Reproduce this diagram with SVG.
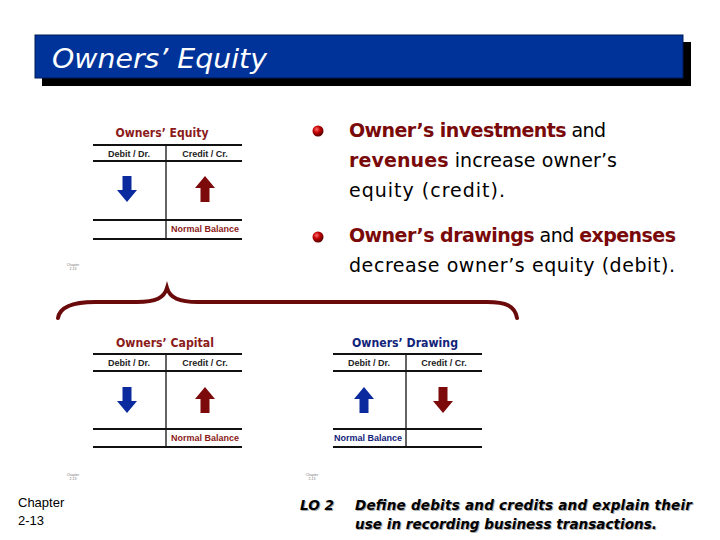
<svg xmlns="http://www.w3.org/2000/svg" width="720" height="540" viewBox="0 0 720 540">
<style>
.ttl{font-family:"DejaVu Sans",sans-serif;font-style:oblique;font-size:27px;fill:#ffffff}
.body{font-family:"DejaVu Sans",sans-serif;font-size:19px;fill:#000000}
.em{font-weight:bold;fill:#7a0a0a}
.tt{font-family:"DejaVu Sans",sans-serif;font-weight:bold;font-size:11.5px;text-anchor:middle}
.hd{font-family:"Liberation Sans",Arial,sans-serif;font-weight:bold;font-size:9px;fill:#222222;text-anchor:middle}
.nb{font-family:"Liberation Sans",Arial,sans-serif;font-weight:bold;font-size:9px;text-anchor:middle}
.ln{stroke:#111111;stroke-width:2;fill:none}
.vl{stroke:#111111;stroke-width:1.3;fill:none}
.tiny{font-family:"Liberation Sans",Arial,sans-serif;font-size:3.5px;fill:#777777;text-anchor:middle}
.lo{font-family:"DejaVu Sans",sans-serif;font-weight:bold;font-style:oblique;font-size:13.5px;fill:#000000}
.los{font-family:"DejaVu Sans",sans-serif;font-weight:bold;font-style:oblique;font-size:13.5px;fill:#aaaaaa}
.blue{fill:#0b2a9e}
.red{fill:#7d0a0a}
</style>
<defs>
<path id="up" d="M0,0 L10,12 L4.5,12 L4.5,26 L-4.5,26 L-4.5,12 L-10,12 Z"/>
<path id="down" d="M0,26 L10,14 L4.5,14 L4.5,0 L-4.5,0 L-4.5,14 L-10,14 Z"/>
<radialGradient id="ball" cx="0.38" cy="0.35" r="0.7">
<stop offset="0" stop-color="#ff6a6a"/>
<stop offset="0.45" stop-color="#c00000"/>
<stop offset="1" stop-color="#4a0000"/>
</radialGradient>
</defs>
<rect width="720" height="540" fill="#ffffff"/>

<g id="title">
<rect x="42" y="42" width="649" height="44" fill="#000000"/>
<rect x="35" y="35" width="648" height="43" fill="#003399" stroke="#001a55" stroke-width="1"/>
<text class="ttl" x="52" y="68" textLength="215" lengthAdjust="spacingAndGlyphs">Owners’ Equity</text>
</g>

<g id="equity-account">
<text class="tt" x="162" y="137" fill="#8b1a1a" textLength="93" lengthAdjust="spacingAndGlyphs">Owners’ Equity</text>
<line class="ln" x1="93" y1="145" x2="242" y2="145"/>
<line class="ln" x1="93" y1="161" x2="242" y2="161"/>
<line class="ln" x1="93" y1="220" x2="242" y2="220"/>
<line class="ln" x1="93" y1="239" x2="242" y2="239"/>
<line class="vl" x1="166" y1="145" x2="166" y2="240"/>
<text class="hd" x="129" y="157">Debit / Dr.</text>
<text class="hd" x="205" y="157">Credit / Cr.</text>
<use href="#down" class="blue" x="127" y="176"/>
<use href="#up" class="red" x="205" y="176"/>
<text class="nb" x="205" y="232" fill="#8b1a1a">Normal Balance</text>
</g>

<g id="capital-account">
<text class="tt" x="165" y="347" fill="#8b1a1a" textLength="98" lengthAdjust="spacingAndGlyphs">Owners’ Capital</text>
<line class="ln" x1="93" y1="354" x2="242" y2="354"/>
<line class="ln" x1="93" y1="371" x2="242" y2="371"/>
<line class="ln" x1="93" y1="429" x2="242" y2="429"/>
<line class="ln" x1="93" y1="447" x2="242" y2="447"/>
<line class="vl" x1="166" y1="354" x2="166" y2="448"/>
<text class="hd" x="129" y="366">Debit / Dr.</text>
<text class="hd" x="205" y="366">Credit / Cr.</text>
<use href="#down" class="blue" x="127" y="387"/>
<use href="#up" class="red" x="205" y="387"/>
<text class="nb" x="205" y="441" fill="#8b1a1a">Normal Balance</text>
</g>

<g id="drawing-account">
<text class="tt" x="405" y="347" fill="#12237a" textLength="106" lengthAdjust="spacingAndGlyphs">Owners’ Drawing</text>
<line class="ln" x1="333" y1="354" x2="482" y2="354"/>
<line class="ln" x1="333" y1="371" x2="482" y2="371"/>
<line class="ln" x1="333" y1="429" x2="482" y2="429"/>
<line class="ln" x1="333" y1="447" x2="482" y2="447"/>
<line class="vl" x1="406" y1="354" x2="406" y2="448"/>
<text class="hd" x="369" y="366">Debit / Dr.</text>
<text class="hd" x="444" y="366">Credit / Cr.</text>
<use href="#up" class="blue" x="364" y="387"/>
<use href="#down" class="red" x="443" y="387"/>
<text class="nb" x="368" y="441" fill="#12237a">Normal Balance</text>
</g>

<g id="bullets">
<circle cx="318" cy="131" r="5.5" fill="url(#ball)"/>
<circle cx="318" cy="237" r="5.5" fill="url(#ball)"/>
<text class="body" x="349" y="137" textLength="257" lengthAdjust="spacing"><tspan class="em">Owner’s investments</tspan> and</text>
<text class="body" x="349" y="167" textLength="268" lengthAdjust="spacing"><tspan class="em">revenues</tspan> increase owner’s</text>
<text class="body" x="349" y="197" textLength="156" lengthAdjust="spacing">equity (credit).</text>
<text class="body" x="349" y="242" textLength="327" lengthAdjust="spacing"><tspan class="em">Owner’s drawings</tspan> and <tspan class="em">expenses</tspan></text>
<text class="body" x="349" y="272" textLength="326" lengthAdjust="spacing">decrease owner’s equity (debit).</text>
</g>

<g id="connectors">
<path d="M58,318 C60,306 74,302 95,302 L137,302 C156,302 164,298 167,288 C170,298 179,302 198,302 L487,302 C506,302 515,306 517,318" fill="none" stroke="#6b0a0a" stroke-width="4" stroke-linecap="round"/>
</g>

<g id="tiny-labels">
<text class="tiny" x="73" y="266">Chapter</text>
<text class="tiny" x="73" y="270">2-13</text>
<text class="tiny" x="73" y="476">Chapter</text>
<text class="tiny" x="73" y="480">2-13</text>
<text class="tiny" x="312" y="476">Chapter</text>
<text class="tiny" x="312" y="480">2-13</text>
</g>

<g id="footer">
<text x="18" y="507" font-family="'Liberation Sans Narrow','Liberation Sans',Arial,sans-serif" font-size="13" fill="#000000">Chapter</text>
<text x="18" y="525" font-family="'Liberation Sans Narrow','Liberation Sans',Arial,sans-serif" font-size="13" fill="#000000">2-13</text>
<text class="los" x="301" y="511" textLength="34" lengthAdjust="spacingAndGlyphs">LO 2</text>
<text class="los" x="356" y="511" textLength="337" lengthAdjust="spacing">Define debits and credits and explain their</text>
<text class="los" x="356" y="530" textLength="302" lengthAdjust="spacing">use in recording business transactions.</text>
<text class="lo" x="300" y="510" textLength="34" lengthAdjust="spacingAndGlyphs">LO 2</text>
<text class="lo" x="355" y="510" textLength="337" lengthAdjust="spacing">Define debits and credits and explain their</text>
<text class="lo" x="355" y="529" textLength="302" lengthAdjust="spacing">use in recording business transactions.</text>
</g>
</svg>
